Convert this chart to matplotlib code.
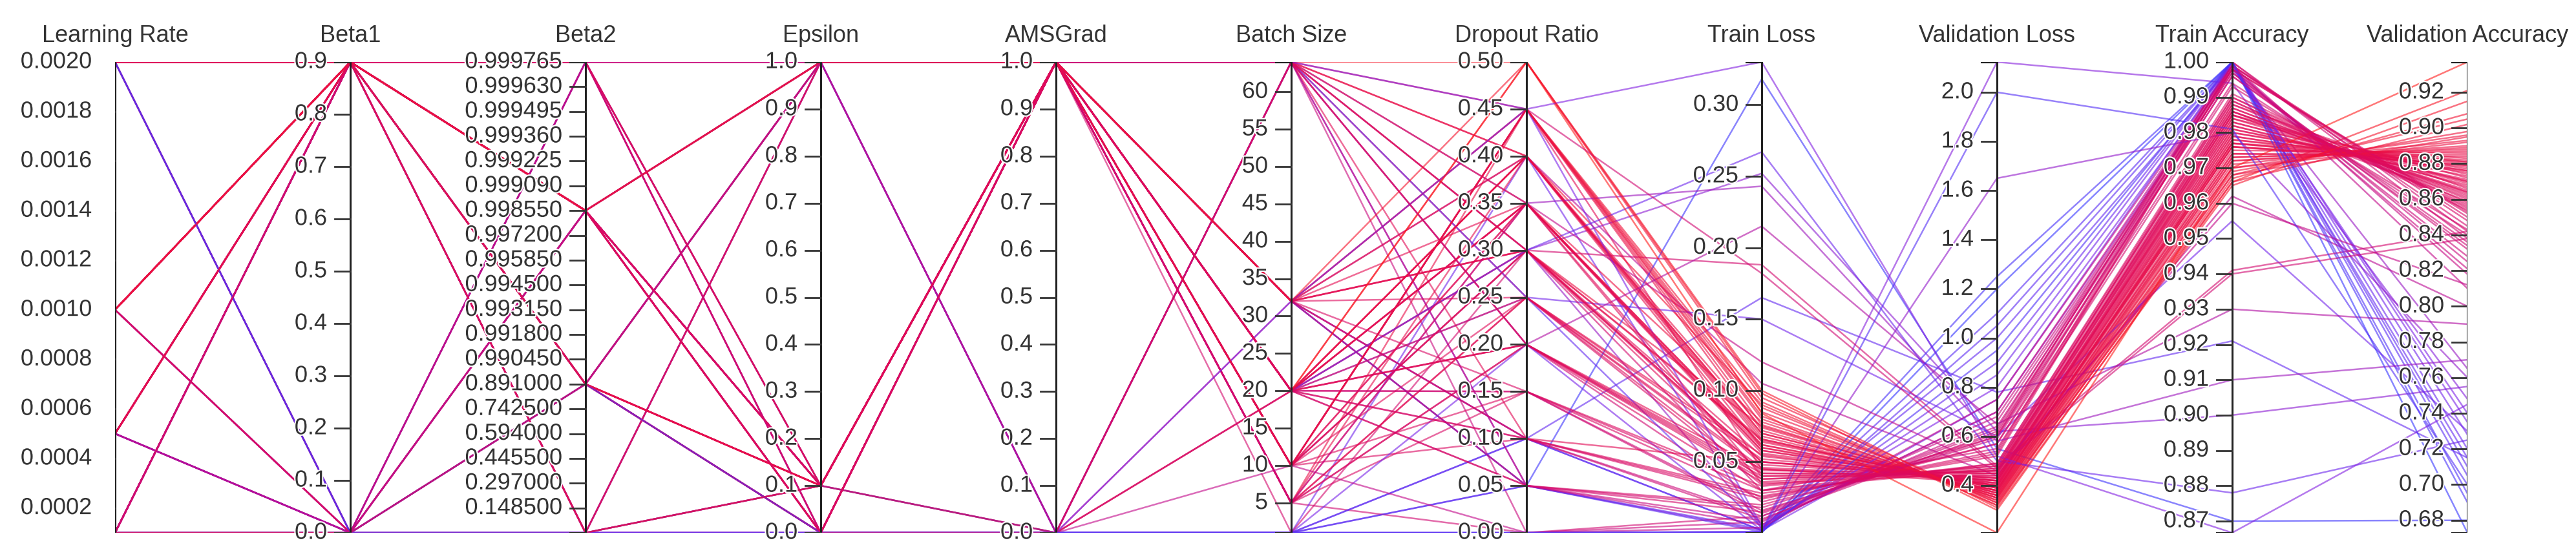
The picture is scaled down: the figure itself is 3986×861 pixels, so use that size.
import numpy as np
import matplotlib
matplotlib.use("Agg")
import matplotlib.pyplot as plt
import matplotlib.patheffects as pe
from matplotlib.colors import LinearSegmentedColormap, Normalize

# one row per training run, one list per dimension
learning_rate = [
    0.002, 0.001, 0.0005, 0.0001, 0.002, 0.001, 0.0005, 0.0001, 0.002, 0.001, 0.0005, 0.0001,
    0.002, 0.001, 0.0005, 0.0001, 0.002, 0.001, 0.0005, 0.0001, 0.002, 0.001, 0.0005, 0.0001,
    0.002, 0.001, 0.0005, 0.0001, 0.002, 0.001, 0.0005, 0.0001, 0.002, 0.001, 0.0005, 0.0001,
    0.002, 0.001, 0.0005, 0.0001, 0.002, 0.001, 0.0005, 0.0001, 0.002, 0.001, 0.0005, 0.0001,
    0.002, 0.001, 0.0005, 0.0001, 0.002, 0.001, 0.0005, 0.0001, 0.002, 0.001, 0.0005, 0.0001,
    0.001, 0.0005, 0.002, 0.0001, 0.001, 0.0005, 0.002, 0.0001, 0.001, 0.0005, 0.002, 0.001,
    0.0005, 0.002, 0.0001, 0.001, 0.0005, 0.002, 0.001, 0.0001, 0.0005, 0.002, 0.001, 0.0001,
    0.0001, 0.0001, 0.0005, 0.0001, 0.0005, 0.0001, 0.001, 0.0005, 0.0001, 0.0005, 0.001, 0.0001,
]
beta1 = [
    0.9, 0.9, 0.9, 0.9, 0.9, 0.9, 0.0, 0.0, 0.9, 0.9, 0.9, 0.9,
    0.9, 0.0, 0.9, 0.9, 0.9, 0.9, 0.9, 0.0, 0.9, 0.9, 0.9, 0.9,
    0.0, 0.9, 0.9, 0.9, 0.9, 0.0, 0.9, 0.9, 0.9, 0.9, 0.0, 0.9,
    0.9, 0.9, 0.9, 0.0, 0.9, 0.9, 0.9, 0.9, 0.0, 0.9, 0.9, 0.9,
    0.9, 0.0, 0.9, 0.9, 0.9, 0.9, 0.0, 0.9, 0.9, 0.9, 0.9, 0.0,
    0.9, 0.9, 0.0, 0.9, 0.9, 0.0, 0.9, 0.9, 0.0, 0.9, 0.0, 0.0,
    0.0, 0.9, 0.0, 0.9, 0.0, 0.0, 0.0, 0.9, 0.0, 0.0, 0.9, 0.0,
    0.9, 0.0, 0.9, 0.9, 0.0, 0.9, 0.9, 0.9, 0.0, 0.9, 0.0, 0.9,
]
beta2 = [
    0.99855, 0.99855, 0.999765, 0.891, 0.891, 0.99855, 0.99855, 0.891, 0.99855, 0.891, 0.0, 0.99855,
    0.999765, 0.999765, 0.99855, 0.891, 0.99855, 0.99855, 0.891, 0.999765, 0.891, 0.99855, 0.99855, 0.0,
    0.99855, 0.891, 0.999765, 0.99855, 0.99855, 0.891, 0.99855, 0.891, 0.0, 0.99855, 0.99855, 0.999765,
    0.891, 0.99855, 0.891, 0.0, 0.99855, 0.999765, 0.99855, 0.891, 0.891, 0.99855, 0.0, 0.99855,
    0.999765, 0.99855, 0.891, 0.99855, 0.99855, 0.891, 0.999765, 0.99855, 0.0, 0.99855, 0.891, 0.99855,
    0.999765, 0.99855, 0.891, 0.99855, 0.0, 0.999765, 0.99855, 0.891, 0.99855, 0.891, 0.0, 0.999765,
    0.99855, 0.0, 0.0, 0.999765, 0.0, 0.891, 0.0, 0.0, 0.99855, 0.0, 0.0, 0.891,
    0.99855, 0.999765, 0.891, 0.0, 0.99855, 0.891, 0.99855, 0.999765, 0.891, 0.99855, 0.0, 0.999765,
]
epsilon = [
    1.0, 1.0, 0.1, 0.1, 0.0, 0.1, 1.0, 0.1, 0.0, 1.0, 0.1, 0.0,
    1.0, 0.1, 1.0, 0.0, 0.1, 0.0, 0.1, 1.0, 0.1, 1.0, 0.0, 0.1,
    0.1, 0.0, 0.1, 1.0, 0.0, 1.0, 0.1, 0.1, 0.0, 0.1, 0.0, 0.1,
    1.0, 0.0, 0.1, 1.0, 0.1, 1.0, 0.0, 0.0, 0.1, 0.1, 1.0, 0.1,
    0.0, 0.1, 1.0, 0.0, 1.0, 0.1, 0.0, 0.1, 0.1, 0.0, 0.1, 1.0,
    1.0, 0.1, 0.0, 0.1, 1.0, 0.0, 0.1, 0.0, 0.1, 1.0, 0.0, 1.0,
    0.0, 0.0, 0.1, 0.0, 1.0, 0.0, 0.0, 0.0, 0.0, 1.0, 0.0, 0.0,
    1.0, 0.1, 1.0, 0.0, 0.1, 1.0, 0.1, 0.0, 1.0, 0.0, 0.1, 1.0,
]
amsgrad = [
    1, 1, 1, 1, 1, 1, 1, 1, 1, 1, 1, 1,
    1, 1, 1, 1, 1, 1, 0, 0, 1, 1, 1, 1,
    1, 1, 1, 1, 0, 1, 1, 1, 1, 1, 1, 1,
    1, 1, 1, 1, 1, 1, 1, 1, 1, 0, 1, 1,
    1, 1, 1, 1, 1, 1, 1, 1, 1, 1, 1, 1,
    0, 1, 0, 1, 1, 0, 1, 1, 0, 1, 0, 0,
    0, 0, 0, 0, 0, 0, 0, 0, 0, 0, 0, 0,
    1, 1, 1, 1, 1, 1, 1, 1, 1, 1, 1, 0,
]
batch_size = [
    64, 32, 20, 10, 5, 20, 32, 64, 20, 10, 5, 32,
    64, 20, 10, 20, 32, 5, 64, 20, 10, 32, 20, 64,
    5, 10, 32, 20, 64, 20, 10, 32, 20, 64, 5, 20,
    32, 10, 20, 64, 5, 20, 32, 10, 20, 64, 5, 32,
    10, 20, 64, 20, 32, 5, 10, 64, 20, 32, 20, 10,
    20, 64, 32, 20, 5, 10, 32, 64, 20, 1, 1, 64,
    1, 1, 1, 1, 64, 1, 1, 32, 1, 1, 64, 1,
    64, 32, 20, 10, 64, 32, 20, 10, 20, 5, 32, 64,
]
dropout = [
    0.45, 0.40, 0.35, 0.30, 0.25, 0.20, 0.45, 0.10, 0.50, 0.35, 0.15, 0.30,
    0.40, 0.05, 0.45, 0.20, 0.25, 0.35, 0.30, 0.40, 0.10, 0.50, 0.25, 0.35,
    0.45, 0.15, 0.30, 0.40, 0.20, 0.35, 0.45, 0.05, 0.30, 0.25, 0.40, 0.20,
    0.10, 0.45, 0.35, 0.30, 0.00, 0.40, 0.15, 0.25, 0.35, 0.50, 0.20, 0.45,
    0.30, 0.10, 0.40, 0.05, 0.35, 0.25, 0.45, 0.20, 0.40, 0.30, 0.50, 0.35,
    0.10, 0.00, 0.05, 0.15, 0.20, 0.00, 0.10, 0.05, 0.15, 0.30, 0.00, 0.05,
    0.00, 0.10, 0.00, 0.05, 0.25, 0.00, 0.10, 0.45, 0.40, 0.20, 0.30, 0.05,
    0.45, 0.05, 0.30, 0.30, 0.35, 0.10, 0.30, 0.45, 0.25, 0.35, 0.40, 0.20,
]
train_loss = [
    0.045, 0.060, 0.035, 0.075, 0.055, 0.030, 0.085, 0.050, 0.095, 0.040, 0.025, 0.065,
    0.070, 0.020, 0.080, 0.045, 0.038, 0.058, 0.048, 0.090, 0.028, 0.100, 0.052, 0.062,
    0.072, 0.033, 0.042, 0.068, 0.036, 0.078, 0.088, 0.018, 0.050, 0.044, 0.064, 0.040,
    0.024, 0.082, 0.056, 0.066, 0.012, 0.074, 0.030, 0.046, 0.060, 0.098, 0.038, 0.076,
    0.054, 0.026, 0.070, 0.015, 0.058, 0.034, 0.092, 0.042, 0.066, 0.050, 0.084, 0.062,
    0.010, 0.008, 0.006, 0.014, 0.022, 0.004, 0.012, 0.009, 0.016, 0.030, 0.001, 0.002,
    0.001, 0.002, 0.0004, 0.003, 0.004, 0.001, 0.002, 0.005, 0.003, 0.002, 0.006, 0.001,
    0.330, 0.318, 0.267, 0.252, 0.243, 0.165, 0.188, 0.182, 0.150, 0.120, 0.105, 0.215,
]
val_loss = [
    0.42, 0.38, 0.45, 0.36, 0.40, 0.47, 0.34, 0.43, 0.33, 0.44, 0.53, 0.39,
    0.37, 0.57, 0.35, 0.41, 0.46, 0.40, 0.43, 0.32, 0.49, 0.31, 0.42, 0.38,
    0.36, 0.48, 0.44, 0.37, 0.47, 0.35, 0.33, 0.60, 0.42, 0.45, 0.39, 0.46,
    0.54, 0.34, 0.41, 0.38, 0.63, 0.36, 0.49, 0.43, 0.40, 0.30, 0.46, 0.35,
    0.41, 0.52, 0.37, 0.61, 0.40, 0.48, 0.32, 0.45, 0.38, 0.42, 0.208, 0.39,
    0.62, 0.66, 0.70, 0.60, 0.57, 0.75, 0.64, 0.68, 0.59, 0.55, 2.00, 2.123,
    1.65, 1.25, 1.20, 1.10, 1.00, 0.95, 0.90, 0.80, 0.85, 0.75, 0.70, 1.05,
    0.52, 0.55, 0.50, 0.62, 0.58, 0.78, 0.48, 0.47, 0.60, 0.46, 0.44, 0.65,
]
train_acc = [
    0.985, 0.978, 0.988, 0.972, 0.980, 0.990, 0.968, 0.983, 0.966, 0.986, 0.998, 0.976,
    0.974, 0.999, 0.970, 0.984, 0.987, 0.979, 0.982, 0.967, 0.991, 0.965, 0.981, 0.977,
    0.973, 0.989, 0.985, 0.975, 0.988, 0.971, 0.969, 1.000, 0.982, 0.986, 0.977, 0.987,
    0.999, 0.970, 0.980, 0.976, 1.000, 0.973, 0.990, 0.984, 0.978, 0.966, 0.986, 0.972,
    0.981, 0.998, 0.974, 0.999, 0.979, 0.989, 0.968, 0.985, 0.976, 0.983, 0.970, 0.977,
    0.997, 0.998, 0.999, 0.996, 0.994, 0.999, 0.997, 0.998, 0.996, 0.993, 0.981, 0.994,
    0.980, 1.000, 1.000, 1.000, 0.999, 1.000, 1.000, 0.999, 1.000, 1.000, 0.998, 1.000,
    0.8667, 0.870, 0.878, 0.900, 0.910, 0.921, 0.941, 0.940, 0.955, 0.960, 0.962, 0.930,
]
val_acc = [
    0.872, 0.881, 0.866, 0.889, 0.877, 0.858, 0.895, 0.869, 0.902, 0.864, 0.852, 0.879,
    0.884, 0.848, 0.892, 0.874, 0.861, 0.876, 0.868, 0.908, 0.855, 0.915, 0.871, 0.883,
    0.887, 0.857, 0.865, 0.886, 0.860, 0.893, 0.898, 0.842, 0.870, 0.863, 0.880, 0.862,
    0.850, 0.896, 0.875, 0.882, 0.838, 0.888, 0.854, 0.867, 0.878, 0.921, 0.859, 0.890,
    0.873, 0.853, 0.885, 0.845, 0.876, 0.856, 0.905, 0.864, 0.881, 0.870, 0.937, 0.879,
    0.832, 0.825, 0.818, 0.836, 0.840, 0.810, 0.828, 0.821, 0.834, 0.843, 0.700, 0.748,
    0.760, 0.690, 0.673, 0.705, 0.715, 0.695, 0.720, 0.740, 0.728, 0.735, 0.765, 0.710,
    0.745, 0.680, 0.725, 0.755, 0.770, 0.715, 0.842, 0.838, 0.730, 0.812, 0.800, 0.790,
]

titles = ["Learning Rate", "Beta1", "Beta2", "Epsilon", "AMSGrad", "Batch Size",
          "Dropout Ratio", "Train Loss", "Validation Loss", "Train Accuracy",
          "Validation Accuracy"]

# beta2 axis has evenly spaced ticks with uneven values
beta2_ticks = [0.0, 0.1485, 0.297, 0.4455, 0.594, 0.7425, 0.891,
               0.99045, 0.9918, 0.99315, 0.9945, 0.99585, 0.9972, 0.99855,
               0.99909, 0.999225, 0.99936, 0.999495, 0.99963, 0.999765]

columns = [learning_rate, beta1, beta2, epsilon, amsgrad, batch_size, dropout,
           train_loss, val_loss, train_acc, val_acc]
columns = [np.array(c, dtype=float) for c in columns]

tick_sets = [
    (np.arange(2, 21, 2) * 0.0001, "%.4f"),
    (np.arange(0, 10) * 0.1, "%.1f"),
    (None, "%.6f"),
    (np.arange(0, 11) * 0.1, "%.1f"),
    (np.arange(0, 11) * 0.1, "%.1f"),
    (np.arange(5, 61, 5), "%d"),
    (np.arange(0, 11) * 0.05, "%.2f"),
    (np.arange(1, 7) * 0.05, "%.2f"),
    (np.arange(2, 11) * 0.2, "%.1f"),
    (np.arange(87, 101) * 0.01, "%.2f"),
    (np.arange(34, 47) * 0.02, "%.2f"),
]


def make_scale(i):
    if i == 2:
        pos = np.linspace(0, 1, len(beta2_ticks))
        return lambda v: np.interp(v, beta2_ticks, pos)
    lo, hi = columns[i].min(), columns[i].max()
    return lambda v: (np.asarray(v, dtype=float) - lo) / (hi - lo)


scales = [make_scale(i) for i in range(len(columns))]
norm_data = np.column_stack([scales[i](columns[i]) for i in range(len(columns))])

cmap = LinearSegmentedColormap.from_list(
    "acc", ["#3535ff", "#7d22e8", "#c0088e", "#e30a55", "#ff1c1c"])
cnorm = Normalize(min(val_acc), max(val_acc))

W, H = 3987, 862
fig = plt.figure(figsize=(W / 100, H / 100), dpi=100)
fig.patch.set_facecolor("white")
x0, y_top, y_bot, step = 178, 97, 826, 364
ax = fig.add_axes([x0 / W, (H - y_bot) / H, step * 10 / W, (y_bot - y_top) / H])
ax.set_xlim(0, 10)
ax.set_ylim(0, 1)
ax.axis("off")

xs = np.arange(len(columns))
n_rows = norm_data.shape[0]
# runs were logged in mixed order, so interleave the groups when drawing
draw_order = sorted(range(n_rows), key=lambda r: (r * 41) % n_rows)
for r in draw_order:
    ax.plot(xs, norm_data[r], color=cmap(cnorm(val_acc[r])), lw=1.8, alpha=0.6,
            zorder=2)

font = dict(family="Liberation Sans", size=26, color="#333333")
halo = [pe.withStroke(linewidth=3, foreground="white")]
tick_len = 24 / step
lab_off = 36 / step

for i in range(len(columns)):
    ax.plot([i, i], [0, 1], color="#222222", lw=2.2, zorder=5, solid_capstyle="butt")
    # outer ticks at both ends of the domain
    for yy in (0, 1):
        ax.plot([i - tick_len, i], [yy, yy], color="#222222", lw=2.2, zorder=5)
    if i == 2:
        vals = beta2_ticks[1:]
        labels = ["%.6f" % v for v in vals]
    else:
        vals, fmt = tick_sets[i]
        labels = [fmt % v for v in vals]
    for v, lab in zip(vals, labels):
        yy = float(scales[i](v))
        if yy < -1e-6 or yy > 1 + 1e-6:
            continue
        ax.plot([i - tick_len, i], [yy, yy], color="#333333", lw=2.0, zorder=5)
        ax.text(i - lab_off, yy, lab, ha="right", va="center", zorder=6,
                path_effects=halo, clip_on=False, **font)
    ax.text(i, 1 + 32 / (y_bot - y_top), titles[i], ha="center", va="baseline",
            clip_on=False, **font)

fig.savefig("out.png", dpi=100, facecolor="white")
